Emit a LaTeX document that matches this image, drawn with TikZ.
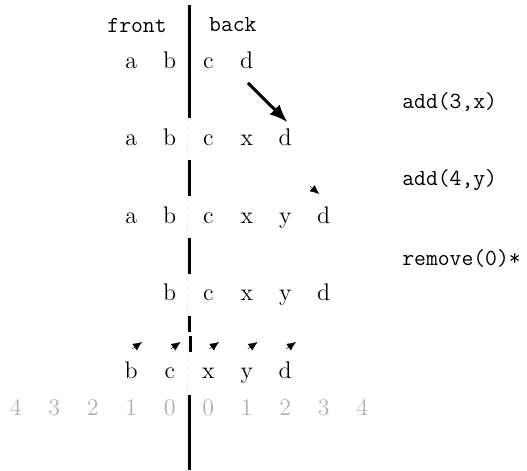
\documentclass[tikz,border=0pt]{standalone}
\usetikzlibrary{arrows.meta}
\tikzset{
  elem/.style={inner sep=0pt, text height=1.5ex, text depth=.25ex, font=\fontsize{12}{14}\selectfont},
  idx/.style={elem, text=gray!60},
  lbl/.style={inner sep=0pt, font=\fontsize{11.5}{13}\selectfont\ttfamily},
  wall/.style={line width=1.5pt},
  push/.style={line width=1.5pt, -{Latex[length=9pt,width=7pt]}},
  tip/.style={line width=0.2pt, -{Latex[length=4.5pt,width=4pt]}}
}
\begin{document}
\begin{tikzpicture}[x=19.25pt,y=38.75pt]
\useasboundingbox (-4.909,0.813) rectangle (8.779,-5.252);
\draw[gray!15, densely dashed, line width=0.4pt] (-0.03,0.75) -- (-0.03,-5.25);
\draw[wall] (0,0.748) -- (0,-0.71);
\draw[wall] (0,-1.252) -- (0,-1.716);
\draw[wall] (0,-2.258) -- (0,-2.723);
\draw[wall] (0,-3.265) -- (0,-3.47);
\draw[wall] (0.03,-3.52) -- (0.03,-3.73);
\draw[wall] (0,-4.284) -- (0,-5.252);
\node[lbl] (front) at (-1.35,0.49) {front};
\node[lbl] (back) at (1.14,0.49) {back};
\node[elem] (r1a) at (-1.5,0) {a};
\node[elem] (r1b) at (-0.5,0) {b};
\node[elem] (r1c) at (0.5,0) {c};
\node[elem] (r1d) at (1.5,0) {d};
\node[elem] (r2a) at (-1.5,-1) {a};
\node[elem] (r2b) at (-0.5,-1) {b};
\node[elem] (r2c) at (0.5,-1) {c};
\node[elem] (r2x) at (1.5,-1) {x};
\node[elem] (r2d) at (2.5,-1) {d};
\node[elem] (r3a) at (-1.5,-2) {a};
\node[elem] (r3b) at (-0.5,-2) {b};
\node[elem] (r3c) at (0.5,-2) {c};
\node[elem] (r3x) at (1.5,-2) {x};
\node[elem] (r3y) at (2.5,-2) {y};
\node[elem] (r3d) at (3.5,-2) {d};
\node[elem] (r4b) at (-0.5,-3) {b};
\node[elem] (r4c) at (0.5,-3) {c};
\node[elem] (r4x) at (1.5,-3) {x};
\node[elem] (r4y) at (2.5,-3) {y};
\node[elem] (r4d) at (3.5,-3) {d};
\node[elem] (r5b) at (-1.5,-4) {b};
\node[elem] (r5c) at (-0.5,-4) {c};
\node[elem] (r5x) at (0.5,-4) {x};
\node[elem] (r5y) at (1.5,-4) {y};
\node[elem] (r5d) at (2.5,-4) {d};
\foreach \i in {0,...,4} {
  \node[idx] (fi\i) at (-\i-0.5,-4.48) {\i};
  \node[idx] (bi\i) at (\i+0.5,-4.48) {\i};
}
\node[lbl, anchor=west] (op1) at (5.53,-0.503) {add(3,x)};
\node[lbl, anchor=west] (op2) at (5.53,-1.51) {add(4,y)};
\node[lbl, anchor=west] (op3) at (5.53,-2.52) {remove(0)*};
\coordinate (m1) at (1.53,-0.258);
\coordinate (m2) at (2.56,-0.765);
\draw[push] (m1) -- (m2);
\coordinate (t3) at (3.38,-1.69);
\draw[tip] ([shift={(140:6pt)}]t3) -- (t3);
\foreach \k in {0,...,4} {
  \coordinate (s\k) at (\k-1.22,-3.6);
  \draw[tip] ([shift={(215:6pt)}]s\k) -- (s\k);
}
\end{tikzpicture}
\end{document}
